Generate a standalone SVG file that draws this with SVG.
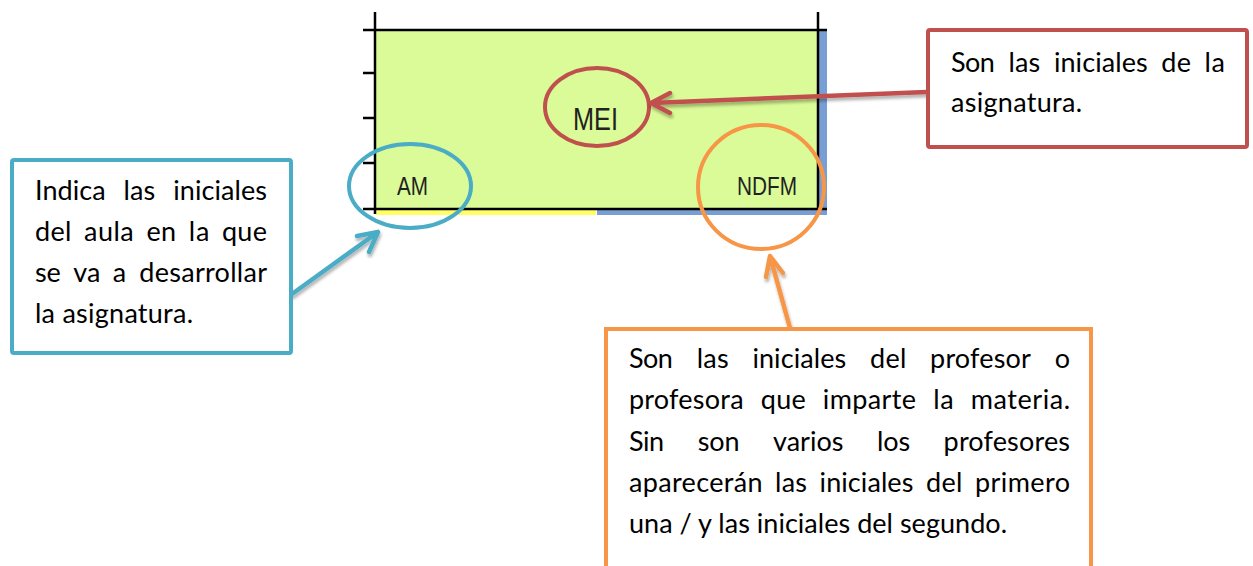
<svg xmlns="http://www.w3.org/2000/svg" width="1253" height="566" viewBox="0 0 1253 566">
<style>
.grid{stroke:#000;stroke-width:2.5;fill:none}
.cell{font-family:"Liberation Sans",Arial,sans-serif;fill:#222}
.txt{font-family:Lato,"Liberation Sans",sans-serif;font-size:27px;fill:#000}
.box{fill:#fff;stroke-width:4}
.ring{fill:none;stroke-width:4}
.arrow{fill:none;stroke-width:4.5;stroke-linecap:round;stroke-linejoin:round;filter:url(#sh)}
</style>
<defs>
<filter id="sh" x="-20%" y="-20%" width="140%" height="160%">
<feDropShadow dx="1" dy="3" stdDeviation="1.5" flood-color="#000" flood-opacity="0.3"/>
</filter>
</defs>
<rect width="1253" height="566" fill="#fff"/>
<g id="table">
<rect x="376" y="31" width="442" height="178" fill="#DAFB97"/>
<rect x="819" y="31" width="8" height="183" fill="#779FD3"/>
<rect x="376" y="210" width="220" height="5" fill="#FFFF66"/>
<rect x="597" y="210" width="230" height="5" fill="#779FD3"/>
<line class="grid" x1="375" y1="12" x2="375" y2="214"/>
<line class="grid" x1="818" y1="12" x2="818" y2="209" stroke-width="2"/>
<line class="grid" x1="363" y1="30" x2="827" y2="30"/>
<line class="grid" x1="363" y1="209" x2="827" y2="209"/>
<line class="grid" x1="363" y1="73" x2="375" y2="73" stroke-width="2"/>
<line class="grid" x1="363" y1="118" x2="375" y2="118" stroke-width="2"/>
<line class="grid" x1="363" y1="163" x2="375" y2="163" stroke-width="2"/>
<text class="cell" x="573" y="130" font-size="31" textLength="45" lengthAdjust="spacingAndGlyphs" fill="#3a3a3a">MEI</text>
<text class="cell" x="397" y="195" font-size="25.5" textLength="31" lengthAdjust="spacingAndGlyphs">AM</text>
<text class="cell" x="737" y="195" font-size="25.5" textLength="60" lengthAdjust="spacingAndGlyphs">NDFM</text>
</g>
<g id="ring-mei"><ellipse class="ring" cx="597" cy="107" rx="52" ry="39" stroke="#C0504D"/></g>
<g id="ring-am"><ellipse class="ring" cx="410" cy="186" rx="61" ry="42" stroke="#4BACC6"/></g>
<g id="ring-ndfm"><ellipse class="ring" cx="761" cy="187" rx="63" ry="62" stroke="#F79646"/></g>
<g id="connectors">
<path class="arrow" stroke="#C0504D" d="M927,92 L651,103 M670,93 L651,103 L670,113"/>
<path class="arrow" stroke="#4BACC6" d="M292,294 L378,232 M357,236 L378,232 L369,252"/>
<path class="arrow" stroke="#F79646" d="M790,328 L770,256 M766,277 L770,256 L783,273"/>
</g>
<g id="note-aula">
<rect class="box" x="12" y="160" width="279" height="193" rx="2" stroke="#4BACC6"/>
<text class="txt" y="200" lengthAdjust="spacingAndGlyphs"><tspan x="35" textLength="70.6">Indica</tspan><tspan x="123.4" textLength="31.9">las</tspan><tspan x="173.2" textLength="93.8">iniciales</tspan></text>
<text class="txt" y="241"><tspan x="35" textLength="36.3">del</tspan><tspan x="84" textLength="49.7">aula</tspan><tspan x="146.4" textLength="29.7">en</tspan><tspan x="188.8" textLength="20.5">la</tspan><tspan x="222" textLength="44.9">que</tspan></text>
<text class="txt" y="282"><tspan x="35" textLength="25.8">se</tspan><tspan x="73.3" textLength="27">va</tspan><tspan x="112.8" textLength="13.9">a</tspan><tspan x="139.3" textLength="127.7">desarrollar</tspan></text>
<text class="txt" x="35" y="323" textLength="158">la asignatura.</text>
</g>
<g id="note-asignatura">
<rect class="box" x="928" y="30" width="319" height="117" rx="2" stroke="#C0504D"/>
<text class="txt" y="72"><tspan x="951" textLength="43.9">Son</tspan><tspan x="1008.4" textLength="31.9">las</tspan><tspan x="1053.9" textLength="93.8">iniciales</tspan><tspan x="1161.2" textLength="29.7">de</tspan><tspan x="1204.5" textLength="20.5">la</tspan></text>
<text class="txt" x="951" y="112" textLength="131">asignatura.</text>
</g>
<g id="note-profesor">
<path class="box" d="M606,570 L606,329 L1091,329 L1091,570" stroke="#F79646"/>
<text class="txt" y="368"><tspan x="629" textLength="43.9">Son</tspan><tspan x="696.7" textLength="31.9">las</tspan><tspan x="752.4" textLength="93.8">iniciales</tspan><tspan x="870" textLength="36.3">del</tspan><tspan x="930.1" textLength="100.7">profesor</tspan><tspan x="1054.7" textLength="15.3">o</tspan></text>
<text class="txt" y="409"><tspan x="629" textLength="114.6">profesora</tspan><tspan x="760.8" textLength="44.9">que</tspan><tspan x="822.8" textLength="93.2">imparte</tspan><tspan x="933.2" textLength="20.5">la</tspan><tspan x="970.8" textLength="99.2">materia.</tspan></text>
<text class="txt" y="451"><tspan x="629" textLength="35.2">Sin</tspan><tspan x="697.7" textLength="41.9">son</tspan><tspan x="773" textLength="70.4">varios</tspan><tspan x="876.9" textLength="33.3">los</tspan><tspan x="943.6" textLength="126.4">profesores</tspan></text>
<text class="txt" y="492"><tspan x="629" textLength="133.5">aparecerán</tspan><tspan x="775.1" textLength="31.9">las</tspan><tspan x="819.6" textLength="93.8">iniciales</tspan><tspan x="926" textLength="36.3">del</tspan><tspan x="975" textLength="95">primero</tspan></text>
<text class="txt" x="629" y="533" textLength="378">una / y las iniciales del segundo.</text>
</g>
</svg>
